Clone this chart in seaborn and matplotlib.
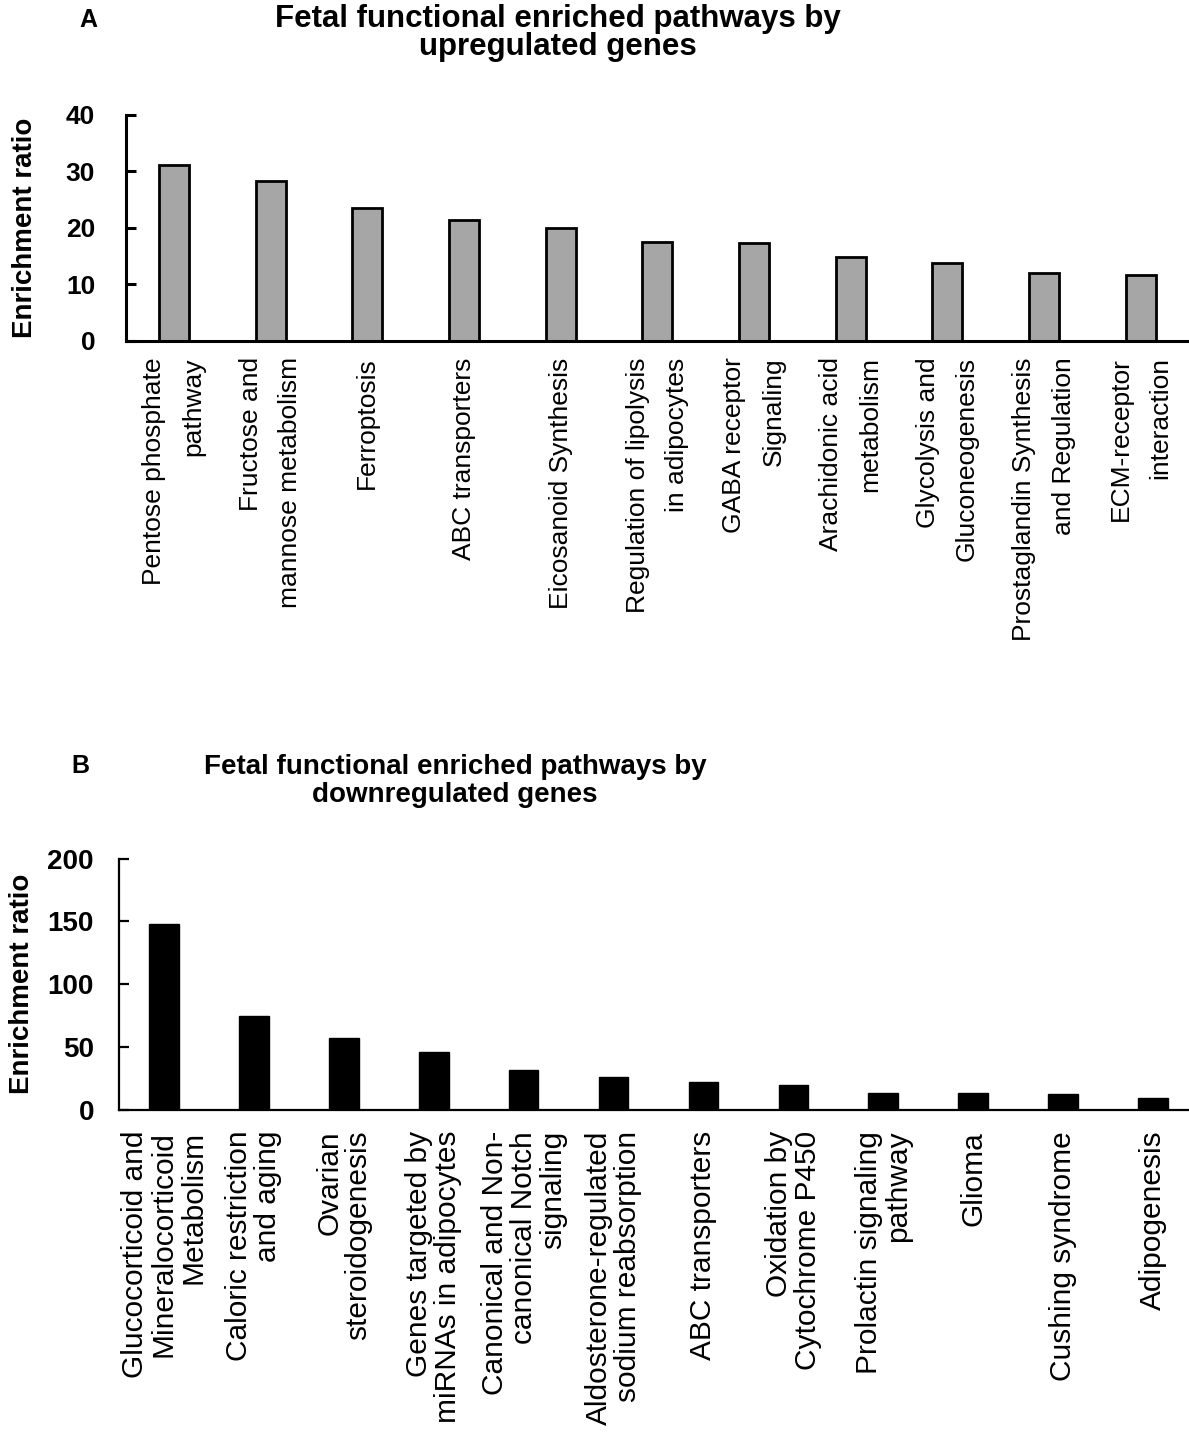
import numpy as np
import pandas as pd
import matplotlib
matplotlib.use('Agg')
import matplotlib.pyplot as plt
import seaborn as sns

# Panel A - upregulated genes
up_pathways = [
    'Pentose phosphate\npathway',
    'Fructose and\nmannose metabolism',
    'Ferroptosis',
    'ABC transporters',
    'Eicosanoid Synthesis',
    'Regulation of lipolysis\nin adipocytes',
    'GABA receptor\nSignaling',
    'Arachidonic acid\nmetabolism',
    'Glycolysis and\nGluconeogenesis',
    'Prostaglandin Synthesis\nand Regulation',
    'ECM-receptor\ninteraction',
]
up_ratio = [31.1, 28.3, 23.4, 21.4, 20.0, 17.4, 17.3, 14.9, 13.8, 11.9, 11.6]

# Panel B - downregulated genes
down_pathways = [
    'Glucocorticoid and\nMineralocorticoid\nMetabolism',
    'Caloric restriction\nand aging',
    'Ovarian\nsteroidogenesis',
    'Genes targeted by\nmiRNAs in adipocytes',
    'Canonical and Non-\ncanonical Notch\nsignaling',
    'Aldosterone-regulated\nsodium reabsorption',
    'ABC transporters',
    'Oxidation by\nCytochrome P450',
    'Prolactin signaling\npathway',
    'Glioma',
    'Cushing syndrome',
    'Adipogenesis',
]
down_ratio = [147.7, 74.5, 57.6, 45.9, 31.5, 26.1, 21.9, 19.7, 13.9, 13.9, 12.5, 9.3]

sns.set_style('ticks')
plt.rcParams['font.family'] = ['Liberation Sans', 'DejaVu Sans']
plt.rcParams['text.color'] = 'black'
plt.rcParams['axes.labelcolor'] = 'black'
plt.rcParams['xtick.color'] = 'black'
plt.rcParams['ytick.color'] = 'black'

W, H = 1189, 1433
fig = plt.figure(figsize=(W / 100, H / 100), dpi=100)


def px_axes(left, right, top, bottom):
    return fig.add_axes([left / W, 1 - bottom / H, (right - left) / W, (bottom - top) / H])


def style_axes(ax, spine_w, tick_fs, lab_fs, ls, pad, ypad):
    sns.despine(ax=ax)
    for s in ['left', 'bottom']:
        ax.spines[s].set_linewidth(spine_w)
        ax.spines[s].set_color('black')
    ax.tick_params(axis='x', length=0, pad=pad, labelsize=lab_fs, labelcolor='black')
    ax.tick_params(axis='y', direction='in', length=7, width=spine_w,
                   colors='black', pad=ypad)
    for lab in ax.get_yticklabels():
        lab.set_fontweight('bold')
        lab.set_fontsize(tick_fs)
    for lab in ax.get_xticklabels():
        lab.set_rotation(90)
        lab.set_ha('center')
        lab.set_va('top')
        lab.set_multialignment('right')
        lab.set_linespacing(ls)
    ax.set_xlabel('')


# ---- Panel A ----
ax1 = px_axes(125.7, 1189, 114.7, 340.7)
dfa = pd.DataFrame({'pathway': up_pathways, 'ratio': up_ratio})
sns.barplot(data=dfa, x='pathway', y='ratio', color='#a6a6a6', saturation=1,
            edgecolor='black', linewidth=2, width=0.31, ax=ax1)
ax1.set_ylim(0, 40)
ax1.set_yticks([0, 10, 20, 30, 40])
ax1.set_xlim(-0.5, 10.5)
ax1.set_ylabel('Enrichment ratio', fontsize=20, fontweight='bold')
style_axes(ax1, 2.2, 19, 19, 1.8, 12, 22)
ax1.yaxis.set_label_coords(-0.0825, 0.5)

# ---- Panel B ----
ax2 = px_axes(119, 1189, 858.6, 1110)
dfb = pd.DataFrame({'pathway': down_pathways, 'ratio': down_ratio})
sns.barplot(data=dfb, x='pathway', y='ratio', color='black', saturation=1,
            edgecolor='black', linewidth=1, width=0.33, ax=ax2)
ax2.set_ylim(0, 200)
ax2.set_yticks([0, 50, 100, 150, 200])
ax2.set_xlim(-0.5, 11.4)
ax2.set_ylabel('Enrichment ratio', fontsize=20, fontweight='bold')
style_axes(ax2, 1.6, 20, 21.5, 1.05, 15, 18)
ax2.yaxis.set_label_coords(-0.0785, 0.5)

# titles and panel letters
fig.text(558 / W, 1 - 33 / H, 'Fetal functional enriched pathways by\nupregulated genes',
         ha='center', va='center', fontsize=22.5, fontweight='bold', linespacing=0.9)
fig.text(455 / W, 1 - 781 / H, 'Fetal functional enriched pathways by\ndownregulated genes',
         ha='center', va='center', fontsize=20, fontweight='bold', linespacing=1.1)
fig.text(88 / W, 1 - 20 / H, 'A', ha='center', va='center', fontsize=18, fontweight='bold')
fig.text(80 / W, 1 - 766 / H, 'B', ha='center', va='center', fontsize=18, fontweight='bold')

fig.savefig('out.png', dpi=100)
